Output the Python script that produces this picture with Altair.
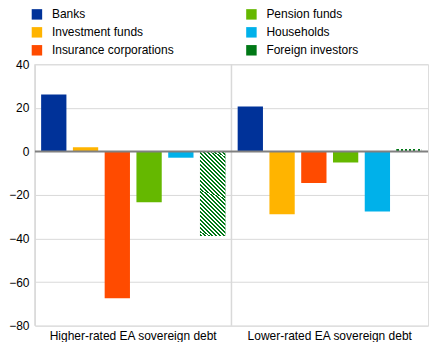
import altair as alt
import pandas as pd

categories = ["Higher-rated EA sovereign debt", "Lower-rated EA sovereign debt"]
series = ["Banks", "Investment funds", "Insurance corporations",
          "Pension funds", "Households", "Foreign investors"]
higher = [26.1, 1.9, -67.4, -23.4, -2.9, -38.8]
lower = [20.6, -28.9, -14.5, -5.1, -27.6, 1.1]
colors = ["#003299", "#FFB400", "#FF4B00", "#65B800", "#00B1EA", "#007816"]
y_ticks = [40, 20, 0, -20, -40, -60, -80]

rows = []
for cat, vals in zip(categories, [higher, lower]):
    for s, v in zip(series, vals):
        rows.append({"category": cat, "series": s, "value": v})
df = pd.DataFrame(rows)

W, H = 394, 262
FONT = "Liberation Sans"
GRID = "#d9d9d9"


def stripes(n, c1, c2, x1, y1, x2, y2):
    stops = []
    for k in range(n):
        a = k / n
        m = (k + 0.5) / n
        b = (k + 1) / n
        stops += [alt.GradientStop(offset=a, color=c1),
                  alt.GradientStop(offset=m, color=c1),
                  alt.GradientStop(offset=m, color=c2),
                  alt.GradientStop(offset=b, color=c2)]
    return alt.LinearGradient(gradient="linear", stops=stops,
                              x1=x1, y1=y1, x2=x2, y2=y2)


# diagonal hatch for the tall bar (bar aspect ~25 x 85 px)
ratio = 25.0 / 85.0
s = (1 + ratio) / (1 + ratio * ratio)
hatch_tall = stripes(28, "#007816", "#ffffff", 0, 1, ratio * s, 1 - s)
hatch_flat = stripes(6, "#007816", "#ffffff", 0, 0, 1, 0)

x_scale = alt.Scale(domain=categories, paddingInner=0, paddingOuter=0)
x_axis = alt.Axis(title=None, labelAngle=0, domain=False, ticks=False,
                  grid=False, labelFontSize=12, labelPadding=5,
                  labelColor="#000000", labelFont=FONT)
x_enc = alt.X("category:N", sort=categories, scale=x_scale, axis=x_axis)
x_enc_plain = alt.X("category:N", sort=categories, scale=x_scale, axis=None)
xo_enc = alt.XOffset("series:N", sort=series,
                     scale=alt.Scale(domain=series, paddingInner=0.204,
                                     paddingOuter=0.195))
y_enc = alt.Y("value:Q",
              scale=alt.Scale(domain=[-80, 40], nice=False, zero=False),
              axis=alt.Axis(title=None, values=y_ticks, grid=True,
                            gridColor=GRID, gridWidth=1, domain=False,
                            ticks=False, labelPadding=6, labelFontSize=12,
                            labelColor="#000000", labelFont=FONT))

base = alt.Chart(df)

bars = base.mark_bar().encode(
    x=x_enc, xOffset=xo_enc, y=y_enc,
    color=alt.Color("series:N",
                    scale=alt.Scale(domain=series, range=colors),
                    legend=alt.Legend(title=None, orient="none", legendX=-4,
                                      legendY=-56, columns=2, columnPadding=71,
                                      rowPadding=6, padding=0, offset=0,
                                      symbolType="square",
                                      symbolSize=110, symbolStrokeWidth=0,
                                      labelFontSize=12, labelOffset=9,
                                      labelFont=FONT, labelColor="#000000")),
)

hatch1 = base.transform_filter(
    (alt.datum.series == "Foreign investors") & (alt.datum.category == categories[0])
).mark_bar(fill=hatch_tall).encode(x=x_enc_plain, xOffset=xo_enc, y=y_enc)

hatch2 = base.transform_filter(
    (alt.datum.series == "Foreign investors") & (alt.datum.category == categories[1])
).mark_bar(fill=hatch_flat).encode(x=x_enc_plain, xOffset=xo_enc, y=y_enc)

seps = base.transform_filter(alt.datum.series == "Banks").mark_rule(
    color=GRID, strokeWidth=1.5
).encode(x=alt.X("category:N", sort=categories, scale=x_scale,
                 bandPosition=0, axis=None))

zero = alt.Chart(pd.DataFrame({"z": [0]})).mark_rule(
    color="#808080", strokeWidth=2
).encode(y=alt.Y("z:Q"))

chart = alt.layer(bars, hatch1, hatch2, seps, zero).resolve_axis(
    x="independent"
).properties(
    width=W, height=H, padding=0
).configure_view(stroke=GRID, strokeWidth=1.5).configure(font=FONT)

chart.save("out.html", embed_options={"renderer": "svg", "actions": False})
